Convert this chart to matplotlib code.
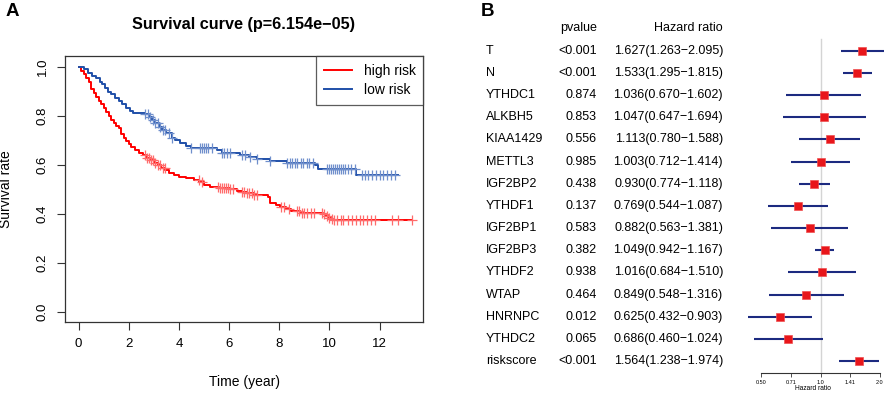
import numpy as np
import matplotlib
matplotlib.use("Agg")
import matplotlib.pyplot as plt
import matplotlib.transforms as mtransforms

plt.rcParams['font.family'] = ['Liberation Sans', 'DejaVu Sans']

# ---------------- Panel A data (Kaplan-Meier step curves) ----------------
high_t = [0, 0.1, 0.2, 0.3, 0.4, 0.5, 0.6, 0.7, 0.8, 0.9, 1.0, 1.1, 1.2, 1.3, 1.4, 1.5, 1.6, 1.7,
          1.8, 1.9, 2.0, 2.1, 2.25, 2.4, 2.55, 2.7, 2.85, 3.0, 3.15, 3.3, 3.45, 3.6, 3.8, 4.0, 4.3,
          4.6, 4.8, 5.0, 5.24, 5.6, 6.03, 6.3, 6.5, 6.7, 7.0, 7.56, 7.63, 7.85, 8.03, 8.25, 8.45,
          8.82, 9.75, 9.85, 9.95, 10.05, 10.15]
high_s = [1.0, 0.985, 0.97, 0.955, 0.94, 0.91, 0.895, 0.878, 0.862, 0.848, 0.832, 0.815, 0.8,
          0.785, 0.772, 0.76, 0.75, 0.728, 0.712, 0.698, 0.686, 0.672, 0.66, 0.65, 0.64, 0.63,
          0.62, 0.608, 0.598, 0.588, 0.578, 0.568, 0.56, 0.552, 0.545, 0.54, 0.53, 0.52, 0.511,
          0.505, 0.5, 0.493, 0.488, 0.484, 0.478, 0.47, 0.444, 0.435, 0.428, 0.42, 0.414, 0.405,
          0.398, 0.39, 0.385, 0.38, 0.376]
high_end = 13.3
high_cens = [2.65, 2.72, 2.8, 2.88, 2.95, 3.05, 3.15, 3.25, 3.35, 3.44, 4.78, 4.9, 5.56, 5.65,
             5.72, 5.8, 5.88, 5.96, 6.05, 6.15, 6.5, 6.6, 6.7, 6.8, 6.9, 7.0, 7.1, 8.05, 8.2, 8.4,
             8.7, 8.8, 8.9, 9.0, 9.1, 9.25, 9.4, 9.7, 9.8, 9.9, 10.0, 10.1, 10.2, 10.3, 10.45, 10.55,
             10.75, 10.9, 11.05, 11.2, 11.35, 11.5, 11.65, 11.8, 12.48, 12.74, 13.28]

low_t = [0, 0.2, 0.38, 0.55, 0.7, 0.85, 0.95, 1.05, 1.18, 1.3, 1.45, 1.6, 1.75, 1.9, 2.05,
         2.18, 2.64, 2.8, 2.91, 3.05, 3.2, 3.31, 3.5, 3.71, 3.85, 4.04, 4.3, 4.5, 5.5, 5.7, 6.43,
         6.8, 7.1, 7.63, 8.29, 9.42, 9.55, 11.05]
low_s = [1.0, 0.99, 0.975, 0.965, 0.955, 0.94, 0.93, 0.915, 0.9, 0.888, 0.875, 0.862, 0.848,
         0.832, 0.82, 0.813, 0.808, 0.795, 0.784, 0.77, 0.757, 0.743, 0.73, 0.712, 0.702, 0.689,
         0.678, 0.668, 0.661, 0.648, 0.641, 0.632, 0.623, 0.618, 0.607, 0.6, 0.584, 0.559]
low_end = 12.74
low_cens = [2.65, 2.75, 2.85, 2.95, 3.05, 3.15, 3.25, 3.35, 3.45, 3.6, 3.72, 4.5, 4.84, 4.92,
            5.0, 5.08, 5.16, 5.3, 5.7, 5.8, 5.9, 6.03, 6.5, 6.65, 6.85, 7.1, 7.63, 8.3, 8.43, 8.52,
            8.62, 8.72, 8.85, 8.95, 9.09, 9.2, 9.35, 9.9, 9.98, 10.06, 10.14, 10.22, 10.3, 10.38,
            10.46, 10.54, 10.62, 10.72, 10.85, 11.02, 11.28, 11.4, 11.55, 11.7, 11.85, 12.0, 12.15,
            12.3, 12.45, 12.61]

x_ticks_A = [0, 2, 4, 6, 8, 10, 12]
y_ticks_A = [0.0, 0.2, 0.4, 0.6, 0.8, 1.0]

# ---------------- Panel B data (forest plot) ----------------
genes = ["T", "N", "YTHDC1", "ALKBH5", "KIAA1429", "METTL3", "IGF2BP2", "YTHDF1", "IGF2BP1",
         "IGF2BP3", "YTHDF2", "WTAP", "HNRNPC", "YTHDC2", "riskscore"]
pvals = ["<0.001", "<0.001", "0.874", "0.853", "0.556", "0.985", "0.438", "0.137", "0.583",
         "0.382", "0.938", "0.464", "0.012", "0.065", "<0.001"]
hr = [1.627, 1.533, 1.036, 1.047, 1.113, 1.003, 0.930, 0.769, 0.882, 1.049, 1.016, 0.849, 0.625, 0.686, 1.564]
hr_low = [1.263, 1.295, 0.670, 0.647, 0.780, 0.712, 0.774, 0.544, 0.563, 0.942, 0.684, 0.548, 0.432, 0.460, 1.238]
hr_high = [2.095, 1.815, 1.602, 1.694, 1.588, 1.414, 1.118, 1.087, 1.381, 1.167, 1.510, 1.316, 0.903, 1.024, 1.974]
forest_ticks = [0.5, 0.71, 1.0, 1.41, 2.0]
forest_ticklabels = ["0.50", "0.71", "1.0", "1.41", "2.0"]

W, H = 886, 393
fig = plt.figure(figsize=(W / 100, H / 100), dpi=100)

def fx(px):
    return px / W

def fy(py):
    return 1 - py / H

RED = "#ff0000"
BLUE = "#1f4fa8"

# ---------------- Panel A ----------------
axA = fig.add_axes([fx(65.3), fy(321.7), fx(423.3 - 65.3), (321.7 - 56) / H])

def km_xy(ts, ss, end):
    xs = list(ts) + [end]
    ys = list(ss) + [ss[-1]]
    return xs, ys

def s_at(ts, ss, t):
    idx = np.searchsorted(np.array(ts), t, side="right") - 1
    return ss[max(idx, 0)]

hx, hy = km_xy(high_t, high_s, high_end)
lx, ly = km_xy(low_t, low_s, low_end)
axA.step(hx, hy, where="post", color=RED, lw=1.4, label="high risk")
axA.step(lx, ly, where="post", color=BLUE, lw=1.4, label="low risk")
axA.plot(high_cens, [s_at(high_t, high_s, t) for t in high_cens], ls="none", marker="+",
         ms=7, mew=0.9, color="#ff6b6b")
axA.plot(low_cens, [s_at(low_t, low_s, t) for t in low_cens], ls="none", marker="+",
         ms=7, mew=0.9, color="#6f8fcc")

axA.set_xlim(-0.53, 13.74)
axA.set_ylim(-0.04, 1.045)
axA.set_xticks(x_ticks_A)
axA.set_yticks(y_ticks_A)
axA.set_yticklabels([f"{v:.1f}" for v in y_ticks_A], rotation=90, va="center")
axA.tick_params(axis="both", labelsize=9.5, length=6, width=0.8, color="#333333", pad=6)
for sp in axA.spines.values():
    sp.set_linewidth(0.9)
    sp.set_color("#333333")
axA.set_xlabel("Time (year)", fontsize=10)
axA.set_ylabel("Survival rate", fontsize=10)
axA.yaxis.set_label_coords(-0.145, 0.5)
axA.xaxis.set_label_coords(0.5, -0.2)
leg = axA.legend(loc="upper right", fontsize=10, frameon=True, fancybox=False,
                 borderaxespad=0, handlelength=2.0, handletextpad=0.85, borderpad=0.55,
                 labelspacing=0.4)
leg.get_frame().set_edgecolor("#333333")
leg.get_frame().set_linewidth(0.9)
fig.text(fx(244), fy(24), "Survival curve (p=6.154e\u221205)", fontsize=11.7, fontweight="bold",
         ha="center", va="center")
fig.text(fx(12), fy(12), "A", fontsize=13.5, fontweight="bold", ha="center", va="center")
fig.text(fx(488), fy(12), "B", fontsize=13.5, fontweight="bold", ha="center", va="center")

# ---------------- Panel B ----------------
lo_px, hi_px = 740, 886
px_per = 59.5
x_lo = 2 ** ((lo_px - 820.5) / px_per)
x_hi = 2 ** ((hi_px - 820.5) / px_per)
axB = fig.add_axes([fx(lo_px), fy(372.7), fx(hi_px - lo_px), (372.7 - 28) / H])
axB.set_xscale("log", base=2)
axB.set_xlim(x_lo, x_hi)
n = len(genes)
rows = np.arange(n)
axB.set_ylim(14.52, -1.02)
axB.axvline(1.0, ymin=0, ymax=(14.52 + 0.53) / (14.52 + 1.02), color="#d4d4d4", lw=1.0, zorder=0)
axB.hlines(rows, hr_low, hr_high, color="#1c2a80", lw=1.5, zorder=2)
axB.plot(hr, rows, ls="none", marker="s", ms=5.6, color="#e8161b", mec="#f05050", mew=0.5, zorder=3)
for s in ["top", "left", "right"]:
    axB.spines[s].set_visible(False)
axB.spines["bottom"].set_bounds(0.5, 2.0)
axB.spines["bottom"].set_linewidth(0.8)
axB.spines["bottom"].set_color("#333333")
axB.set_yticks([])
axB.xaxis.set_minor_locator(matplotlib.ticker.NullLocator())
axB.set_xticks(forest_ticks)
axB.set_xticklabels(forest_ticklabels)
axB.tick_params(axis="x", labelsize=4, length=3, width=0.6, pad=2, color="#333333")
axB.set_xlabel("Hazard ratio", fontsize=4.8, labelpad=0.5)
axB.patch.set_alpha(0)

trans = mtransforms.blended_transform_factory(fig.transFigure, axB.transData)
fs = 9
fig.text(fx(597), -1, "pvalue", transform=trans, fontsize=fs, ha="right", va="center")
fig.text(fx(723), -1, "Hazard ratio", transform=trans, fontsize=fs, ha="right", va="center")
for i in range(n):
    fig.text(fx(485.7), i, genes[i], transform=trans, fontsize=fs, ha="left", va="center")
    fig.text(fx(597), i, pvals[i], transform=trans, fontsize=fs, ha="right", va="center")
    fig.text(fx(723), i, f"{hr[i]:.3f}({hr_low[i]:.3f}\u2212{hr_high[i]:.3f})", transform=trans,
             fontsize=fs, ha="right", va="center")

fig.savefig("out.png", dpi=100)
